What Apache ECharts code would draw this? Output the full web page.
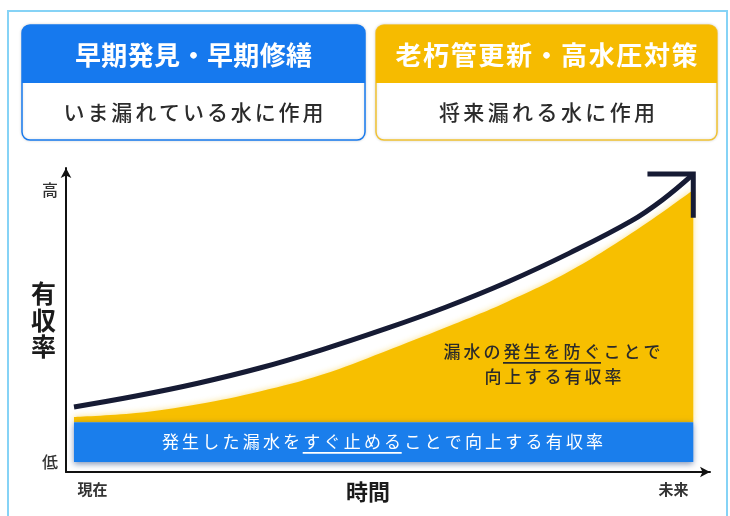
<!DOCTYPE html>
<html><head><meta charset="utf-8">
<script src="https://cdn.jsdelivr.net/npm/echarts@6/dist/echarts.min.js"></script>
<style>html,body{margin:0;padding:0;background:#fff}#c{width:730px;height:516px}</style>
</head><body><div id="c"></div>
<script>
// ---- data ----
const timeSteps   = [0, 1, 2, 3, 4, 5, 6, 7, 8, 9, 9.5, 10];
const rateLine    = [21.4, 25.0, 29.2, 34.2, 40.2, 46.9, 54.2, 62.5, 72.0, 82.6, 89.5, 98.0];
const yellowSteps = [0, 1, 2, 3, 4, 5, 6, 7, 8, 9, 10];
const yellowTop   = [18.1, 19.4, 22.3, 26.5, 32.0, 39.5, 47.5, 56.0, 66.0, 78.5, 92.8];
const bandSteps   = [0, 10];
const bandTop     = [16.4, 16.4];
const bandBottom  = 3.3;
const arrowHeadX  = [9.26, 10, 10];
const arrowHeadY  = [98.0, 98.0, 83.6];
const yTickValues = [3.3, 92.8];
const yTickLabels = ['低', '高'];
const xTickValues = [0.3, 9.68];
const xTickLabels = ['現在', '未来'];
const yAxisName = '有収率';
const xAxisName = '時間';
const headerLeft = '早期発見・早期修繕';
const headerRight = '老朽管更新・高水圧対策';
const subLeft = 'いま漏れている水に作用';
const subRight = '将来漏れる水に作用';
const bandText = '発生した漏水をすぐ止めることで向上する有収率';
const yellowText1 = '漏水の発生を防ぐことで';
const yellowText2 = '向上する有収率';

const FONT = '"Noto Sans CJK JP"';
const BLUE = '#1679ee';
const YELLOW = '#f6bb00';
const LINE = '#161b34';

function spaced(str, cx, cy, size, pitch, color, weight, ul, ulColor, ulOffset, extra) {
  const chars = Array.from(str);
  const n = chars.length;
  const x0 = cx - (n - 1) * pitch / 2;
  const els = [];
  chars.forEach((ch, i) => {
    els.push({
      type: 'text', x: x0 + i * pitch, y: cy, z: 100,
      style: Object.assign({
        text: ch, fill: color, font: weight + ' ' + size + 'px ' + FONT,
        textAlign: 'center', textVerticalAlign: 'middle', align: 'center', verticalAlign: 'middle'
      }, extra || {})
    });
  });
  if (ul) {
    els.push({
      type: 'rect', z: 101,
      shape: { x: x0 + ul[0] * pitch - pitch / 2 + 1, y: cy + ulOffset, width: (ul[1] - ul[0] + 1) * pitch - 2, height: 1.8 },
      style: { fill: ulColor }
    });
  }
  return els;
}

const graphics = [
  { type: 'rect', z: 1, shape: { x: 8, y: 11, width: 719, height: 530 }, style: { fill: 'none', stroke: '#86d3f6', lineWidth: 2 } },
  // left box
  { type: 'rect', z: 10, shape: { x: 22, y: 25, width: 343, height: 115, r: 8 }, style: { fill: '#fff', stroke: BLUE, lineWidth: 1.5, shadowBlur: 3, shadowColor: 'rgba(0,0,0,0.15)' } },
  { type: 'rect', z: 11, shape: { x: 22, y: 25, width: 343, height: 58, r: [8, 8, 0, 0] }, style: { fill: BLUE } },
  // right box
  { type: 'rect', z: 10, shape: { x: 376, y: 25, width: 341, height: 115, r: 8 }, style: { fill: '#fff', stroke: '#f1c232', lineWidth: 1.5, shadowBlur: 3, shadowColor: 'rgba(0,0,0,0.15)' } },
  { type: 'rect', z: 11, shape: { x: 376, y: 25, width: 341, height: 58, r: [8, 8, 0, 0] }, style: { fill: YELLOW } }
]
  .concat(spaced(headerLeft, 193.5, 55, 26, 26.4, '#fff', 'bold'))
  .concat(spaced(headerRight, 546.5, 55, 26, 27.6, '#fff', 'bold', null, null, 0, { shadowBlur: 3, shadowColor: 'rgba(0,0,0,0.35)' }))
  .concat(spaced(subLeft, 193.5, 112, 21, 23.9, '#2b2b2b', '500'))
  .concat(spaced(subRight, 547, 112, 21, 24.4, '#2b2b2b', '500'))
  .concat(spaced(bandText, 382.5, 442, 17, 20.2, '#fff', 'normal', [7, 11], '#fff', 10))
  .concat(spaced(yellowText1, 552, 352, 17, 20, '#2a2a2a', '500', [3, 7], '#2a2a2a', 10))
  .concat(spaced(yellowText2, 553, 377, 17, 20, '#2a2a2a', '500'));

const chart = echarts.init(document.getElementById('c'), null, { renderer: 'canvas' });
chart.setOption({
  animation: false,
  backgroundColor: '#fff',
  grid: { left: 66, right: 20, top: 168, bottom: 44, containLabel: false },
  xAxis: {
    type: 'value', min: -0.129, max: 10.27,
    splitLine: { show: false }, axisTick: { show: false },
    axisLine: { show: true, onZero: false, lineStyle: { color: '#111', width: 2 }, symbol: ['none', 'arrow'], symbolSize: [8, 10] },
    axisLabel: {
      customValues: xTickValues, margin: 10, fontSize: 15, fontWeight: 'bold', color: '#333', fontFamily: FONT,
      formatter: v => xTickLabels[xTickValues.indexOf(v)] || ''
    },
    name: xAxisName, nameLocation: 'middle', nameGap: 9, nameMoveOverlap: false,
    nameTextStyle: { fontSize: 22, fontWeight: 'bold', color: '#1b1b1b', fontFamily: FONT, padding: [0, 40, 0, 0] }
  },
  yAxis: {
    type: 'value', min: 0, max: 100,
    splitLine: { show: false }, axisTick: { show: false },
    axisLine: { show: true, onZero: false, lineStyle: { color: '#111', width: 2 }, symbol: ['none', 'arrow'], symbolSize: [8, 10] },
    axisLabel: {
      customValues: yTickValues, margin: 8, fontSize: 16, fontWeight: '500', color: '#333', fontFamily: FONT,
      formatter: v => yTickLabels[yTickValues.indexOf(v)] || ''
    },
    name: Array.from(yAxisName).join('\n'), nameLocation: 'middle', nameGap: 10, nameRotate: 0, nameMoveOverlap: false,
    nameTextStyle: { fontSize: 25, fontWeight: 'bold', color: '#1b1b1b', fontFamily: FONT, lineHeight: 26.5 }
  },
  series: [
    {
      type: 'line', z: 2, smooth: 0.4, symbol: 'none', silent: true,
      data: yellowSteps.map((t, i) => [t, yellowTop[i]]),
      lineStyle: { width: 0 },
      areaStyle: { color: '#f7bf00', origin: bandTop[0], opacity: 1, shadowBlur: 6, shadowColor: 'rgba(247,191,0,0.45)' }
    },
    {
      type: 'line', z: 3, symbol: 'none', silent: true,
      data: bandSteps.map((t, i) => [t, bandTop[i]]),
      lineStyle: { width: 0 },
      areaStyle: { color: '#1a7eec', origin: bandBottom, opacity: 1, shadowBlur: 6, shadowColor: 'rgba(0,40,110,0.5)', shadowOffsetY: 2 }
    },
    {
      type: 'line', z: 5, smooth: 0.4, symbol: 'none', silent: true,
      data: timeSteps.map((t, i) => [t, rateLine[i]]),
      lineStyle: { color: LINE, width: 5 }
    },
    {
      type: 'line', z: 5, symbol: 'none', silent: true,
      data: arrowHeadX.map((t, i) => [t, arrowHeadY[i]]),
      lineStyle: { color: LINE, width: 5, join: 'miter', cap: 'butt' }
    }
  ],
  graphic: graphics
});
</script>
</body></html>
